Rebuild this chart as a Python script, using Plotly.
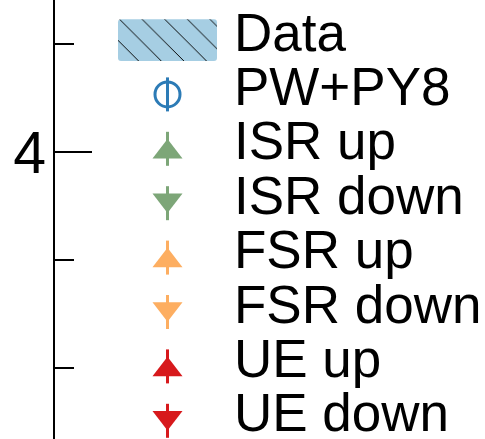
import plotly.graph_objects as go

# ---- data (legend entries + axis) ----
labels = ["Data", "PW+PY8", "ISR up", "ISR down", "FSR up", "FSR down", "UE up", "UE down"]
colors = ["#a6cee3", "#2c7bb6", "#7da678", "#7da678", "#fdae61", "#fdae61", "#d7191c", "#d7191c"]
symbols = [None, "circle-open", "triangle-up", "triangle-down", "triangle-up", "triangle-down",
           "triangle-up", "triangle-down"]
y_range = [3.336, 4.352]

# ---- layout constants (pixels) ----
W, H, L = 485, 439, 55
ROW0, ROW_STEP = 40.0, 54.4
MX = 167.5          # marker column centre
TX = 231.5          # text column left
ERR = 17            # half length of legend error bar
TRI = 26            # triangle marker size

rows = [ROW0 + i * ROW_STEP for i in range(len(labels))]

fig = go.Figure()

# anchor trace for the main axes (invisible)
fig.add_trace(go.Scatter(x=[0.5], y=[4], mode="markers", marker=dict(opacity=0),
                         hoverinfo="skip", showlegend=False))

# Data swatch (hatched, rounded)
fig.add_trace(go.Bar(
    x=[MX], y=[-41.7], base=[rows[0] + 21], width=[99],
    xaxis="x2", yaxis="y2", showlegend=False, hoverinfo="skip",
    marker=dict(color=colors[0], cornerradius=3, line=dict(width=0),
                pattern=dict(shape="\\", size=16, solidity=0.06,
                             fgcolor="black", bgcolor=colors[0], fillmode="replace")),
))

# PW+PY8 open circle with error bar
fig.add_trace(go.Scatter(
    x=[MX], y=[rows[1]], mode="markers", xaxis="x2", yaxis="y2", showlegend=False,
    hoverinfo="skip",
    marker=dict(symbol=symbols[1], size=25, color=colors[1], line=dict(width=3, color=colors[1])),
    error_y=dict(type="data", array=[ERR], thickness=3, width=0, color=colors[1]),
))

# variation triangles
for i in range(2, len(labels)):
    s = TRI / 8.0
    up = symbols[i] == "triangle-up"
    yc = rows[i] + (s if up else -s)
    plus = ERR - s if up else ERR + s
    minus = ERR + s if up else ERR - s
    fig.add_trace(go.Scatter(
        x=[MX], y=[yc], mode="markers", xaxis="x2", yaxis="y2", showlegend=False,
        hoverinfo="skip",
        marker=dict(symbol=symbols[i], size=TRI, color=colors[i], line=dict(width=0)),
        error_y=dict(type="data", symmetric=False, array=[plus], arrayminus=[minus],
                     thickness=3, width=0, color=colors[i]),
    ))

for i, lab in enumerate(labels):
    fig.add_annotation(x=TX, y=rows[i] - 8, xref="x2", yref="y2", text=lab,
                       xanchor="left", yanchor="middle", showarrow=False,
                       font=dict(family="Liberation Sans, Arial, sans-serif", size=53, color="black"))

fig.update_layout(
    width=W, height=H,
    margin=dict(l=L, r=0, t=0, b=0),
    paper_bgcolor="white", plot_bgcolor="white",
    showlegend=False,
    xaxis=dict(visible=False, range=[0, 1]),
    yaxis=dict(range=y_range, showline=True, linewidth=2, linecolor="black",
               ticks="inside", ticklen=37, tickwidth=2, tickcolor="black",
               tick0=0, dtick=1, showgrid=False, zeroline=False, ticklabelstandoff=-5,
               tickfont=dict(family="Liberation Sans, Arial, sans-serif", size=59, color="black"),
               minor=dict(ticks="inside", ticklen=19, tickwidth=2, tickcolor="black",
                          dtick=0.25, showgrid=False)),
    xaxis2=dict(visible=False, range=[L, W], overlaying="x", anchor="y2"),
    yaxis2=dict(visible=False, range=[H, 0], overlaying="y", anchor="x2"),
)

fig.write_html("out.html", config={"displayModeBar": False},
               post_script="document.body.style.margin='0';")
